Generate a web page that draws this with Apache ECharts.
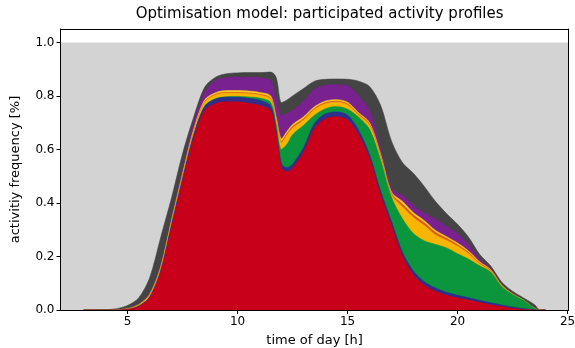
<!DOCTYPE html>
<html>
<head>
<meta charset="utf-8">
<script src="https://cdn.jsdelivr.net/npm/echarts@6/dist/echarts.min.js"></script>
<style>
html,body{margin:0;padding:0;background:#fff;}
#chart{width:575px;height:348px;}
</style>
</head>
<body>
<div id="chart"></div>
<script>
// time of day [h]
const hours = [3,3.5,4,4.5,5,5.5,6,6.5,7,7.5,8,8.5,9,9.5,10,10.5,11,11.5,11.75,12,12.25,12.5,13,13.5,14,14.5,15,15.5,16,16.5,17,17.5,18,18.5,19,19.5,20,20.5,21,21.5,22,22.5,23,23.5,23.75,24];

// cumulative activity frequency at the top of each stacked layer (bottom -> top)
const topRed    = [0,0,0,0,0.002,0.012,0.045,0.14,0.31,0.48,0.64,0.745,0.772,0.778,0.778,0.773,0.765,0.745,0.66,0.53,0.517,0.53,0.59,0.68,0.715,0.722,0.71,0.655,0.565,0.43,0.315,0.2,0.13,0.092,0.07,0.055,0.045,0.037,0.028,0.02,0.013,0.006,0.002,0,0,0];
const topBlue   = [0,0,0,0,0.002,0.014,0.048,0.145,0.318,0.49,0.652,0.76,0.788,0.795,0.795,0.791,0.784,0.763,0.675,0.545,0.532,0.545,0.607,0.698,0.733,0.74,0.728,0.672,0.58,0.445,0.33,0.215,0.145,0.105,0.082,0.066,0.055,0.046,0.036,0.027,0.019,0.011,0.005,0.001,0,0];
const topGreen  = [0,0,0,0,0.002,0.014,0.048,0.146,0.32,0.492,0.654,0.762,0.79,0.797,0.798,0.796,0.792,0.776,0.695,0.6,0.62,0.655,0.69,0.728,0.752,0.76,0.75,0.72,0.675,0.56,0.42,0.34,0.285,0.258,0.245,0.232,0.21,0.19,0.165,0.142,0.088,0.058,0.036,0.006,0,0];
const topAmber  = [0,0,0,0,0.003,0.016,0.052,0.152,0.327,0.5,0.664,0.775,0.803,0.81,0.81,0.808,0.803,0.788,0.71,0.625,0.655,0.68,0.71,0.75,0.771,0.776,0.766,0.728,0.69,0.57,0.43,0.385,0.345,0.315,0.28,0.26,0.238,0.21,0.172,0.146,0.09,0.059,0.036,0.006,0,0];
const topOrange = [0,0,0,0,0.004,0.018,0.055,0.156,0.332,0.505,0.668,0.778,0.806,0.813,0.813,0.811,0.806,0.792,0.715,0.63,0.66,0.686,0.715,0.754,0.775,0.78,0.77,0.732,0.695,0.575,0.435,0.395,0.355,0.325,0.29,0.268,0.244,0.215,0.176,0.149,0.092,0.06,0.037,0.006,0,0];
const topYellow = [0,0,0,0.001,0.005,0.02,0.058,0.16,0.337,0.51,0.674,0.785,0.812,0.82,0.82,0.818,0.813,0.8,0.722,0.64,0.668,0.693,0.722,0.76,0.781,0.786,0.776,0.737,0.7,0.582,0.44,0.405,0.363,0.333,0.297,0.274,0.25,0.22,0.18,0.151,0.093,0.06,0.037,0.006,0,0];
const topPurple = [0,0,0,0.001,0.005,0.021,0.06,0.165,0.345,0.525,0.7,0.815,0.858,0.868,0.87,0.87,0.868,0.858,0.795,0.725,0.735,0.745,0.78,0.825,0.84,0.842,0.838,0.8,0.745,0.6,0.455,0.428,0.39,0.362,0.34,0.312,0.285,0.245,0.19,0.155,0.095,0.061,0.037,0.007,0,0];
const topGrey   = [0,0,0.001,0.005,0.017,0.045,0.12,0.27,0.42,0.585,0.72,0.832,0.87,0.883,0.886,0.887,0.887,0.889,0.87,0.775,0.785,0.8,0.828,0.855,0.862,0.863,0.862,0.855,0.835,0.765,0.63,0.55,0.51,0.46,0.405,0.36,0.32,0.272,0.208,0.165,0.105,0.07,0.045,0.02,0,0];

const xTicks = [5,10,15,20,25];
const yTicks = [0,0.2,0.4,0.6,0.8,1.0];

const FONT = 'DejaVu Sans';
const layers = [
  {data: topGrey,   color: '#444444'},
  {data: topPurple, color: '#7a2190'},
  {data: topYellow, color: '#f7cc2a'},
  {data: topOrange, color: '#dc5a18'},
  {data: topAmber,  color: '#f7b500'},
  {data: topGreen,  color: '#0b963e'},
  {data: topBlue,   color: '#2c2f8e'},
  {data: topRed,    color: '#c8001a'}
];

const series = [{
  type: 'line', data: [], z: 1, silent: true,
  markArea: {silent: true, itemStyle: {color: '#d3d3d3', opacity: 1}, data: [[{yAxis: 0}, {yAxis: 1}]]}
}];
layers.forEach((l, i) => {
  series.push({
    type: 'line',
    data: hours.map((h, k) => [h, l.data[k]]),
    z: 2 + i,
    smooth: 0.3,
    showSymbol: false,
    symbol: 'none',
    silent: true,
    lineStyle: {width: 0.6, color: l.color},
    areaStyle: {color: l.color, opacity: 1}
  });
});

const chart = echarts.init(document.getElementById('chart'), null, {renderer: 'canvas'});
chart.setOption({
  animation: false,
  backgroundColor: '#fff',
  title: {
    text: 'Optimisation model: participated activity profiles',
    left: 314.6, top: 2, textAlign: 'center',
    textStyle: {fontFamily: FONT, fontSize: 15, fontWeight: 'normal', color: '#000'}
  },
  grid: {left: 60.5, right: 6.3, top: 29, bottom: 38, containLabel: false, outerBoundsMode: 'none'},
  xAxis: [{
    type: 'value', min: 1.95, max: 25.05, position: 'bottom', z: 20,
    axisLine: {show: true, onZero: false, lineStyle: {color: '#000', width: 1}},
    axisTick: {show: true, customValues: xTicks, length: 4, lineStyle: {color: '#000'}},
    axisLabel: {customValues: xTicks, color: '#000', fontFamily: FONT, fontSize: 12, margin: 6, hideOverlap: false},
    splitLine: {show: false},
    name: 'time of day [h]', nameLocation: 'middle', nameGap: 24,
    nameTextStyle: {fontFamily: FONT, fontSize: 13, color: '#000'}
  }, {
    type: 'value', min: 1.95, max: 25.05, position: 'top', z: 20,
    axisLine: {show: true, onZero: false, lineStyle: {color: '#000', width: 1}},
    axisTick: {show: false}, axisLabel: {show: false}, splitLine: {show: false}
  }],
  yAxis: [{
    type: 'value', min: 0, max: 1.05, position: 'left', z: 20,
    axisLine: {show: true, onZero: false, lineStyle: {color: '#000', width: 1}},
    axisTick: {show: true, customValues: yTicks, length: 4, lineStyle: {color: '#000'}},
    axisLabel: {customValues: yTicks, color: '#000', fontFamily: FONT, fontSize: 12, margin: 6,
      formatter: v => v.toFixed(1)},
    splitLine: {show: false},
    name: 'activitiy frequency [%]', nameLocation: 'middle', nameGap: 38,
    nameTextStyle: {fontFamily: FONT, fontSize: 13, color: '#000'}
  }, {
    type: 'value', min: 0, max: 1.05, position: 'right', z: 20,
    axisLine: {show: true, onZero: false, lineStyle: {color: '#000', width: 1}},
    axisTick: {show: false}, axisLabel: {show: false}, splitLine: {show: false}
  }],
  series: series
});
</script>
</body>
</html>
